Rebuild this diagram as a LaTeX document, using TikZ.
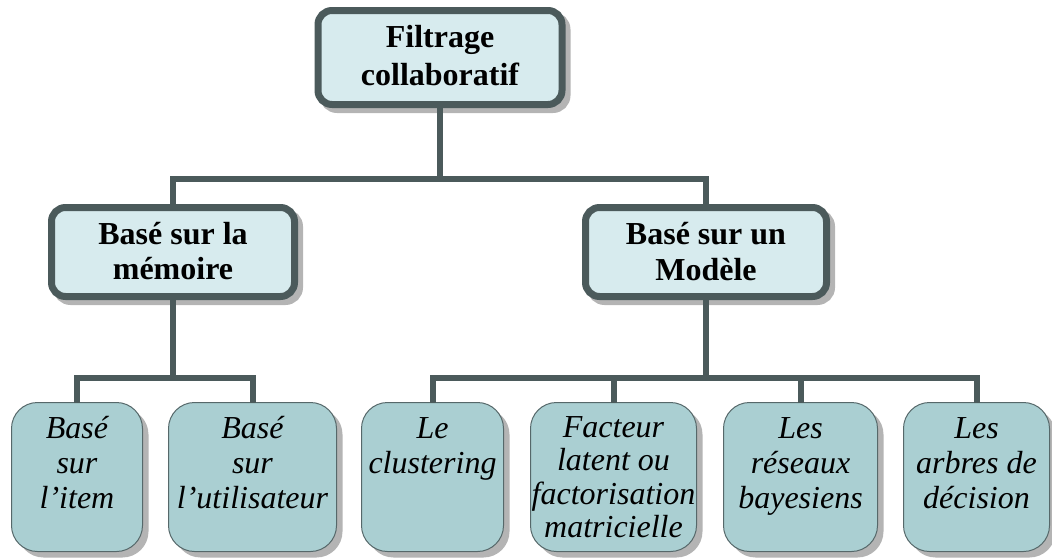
\documentclass[tikz,border=0pt]{standalone}
\usepackage{fontspec}
\setmainfont{Liberation Serif}
\usetikzlibrary{shadows}
\definecolor{edgec}{HTML}{4B5A5B}
\definecolor{lightfill}{HTML}{D7EBEE}
\definecolor{darkfill}{HTML}{AACFD2}
\definecolor{leafedge}{HTML}{56686A}
\definecolor{shadowc}{HTML}{B4B4B4}
\newcommand\boxtext[4]{\parbox[c][#2][t]{#1}{\centering\rule{0pt}{#3}#4}}
\tikzset{
  headbox/.style={draw=edgec, line width=7pt, fill=lightfill, rounded corners=14pt,
    inner sep=0pt, outer sep=0pt,
    drop shadow={shadow xshift=5pt, shadow yshift=-5pt, fill=shadowc, draw=shadowc, line width=7pt, opacity=1},
    font=\fontsize{32}{35.5}\selectfont\bfseries},
  leafbox/.style={draw=leafedge, line width=1pt, fill=darkfill, rounded corners=26pt,
    inner sep=0pt, outer sep=0pt,
    drop shadow={shadow xshift=6pt, shadow yshift=-6pt, fill=shadowc, opacity=1},
    font=\fontsize{32}{35}\selectfont\itshape},
  conn/.style={draw=edgec, line width=6pt},
}
\begin{document}
\begin{tikzpicture}[x=1pt,y=-1pt]
\useasboundingbox (0,0) rectangle (1052,557);
% top
\node[headbox, font=\fontsize{32}{38.5}\selectfont\bfseries] (root) at (440,57.5)
  {\boxtext{244pt}{94pt}{36.5pt}{Filtrage\\collaboratif}};
% middle
\node[headbox] (mem) at (173,252) {\boxtext{243pt}{89pt}{36.5pt}{Basé sur la\\mémoire}};
\node[headbox] (mod) at (706,252) {\boxtext{241pt}{89pt}{37pt}{Basé sur un\\Modèle}};
% leaves
\node[leafbox] (b1) at (77,477) {\boxtext{131pt}{149pt}{35.5pt}{Basé\\sur\\l’item}};
\node[leafbox] (b2) at (252.5,477) {\boxtext{168pt}{149pt}{35.5pt}{Basé\\sur\\l’utilisateur}};
\node[leafbox] (b3) at (432.5,477) {\boxtext{142pt}{149pt}{35.5pt}{Le\\clustering}};
\node[leafbox, font=\fontsize{32}{33.5}\selectfont\itshape] (b4) at (613.5,477)
  {\boxtext{166pt}{149pt}{34.5pt}{Facteur\\latent ou\\factorisation\\matricielle}};
\node[leafbox] (b5) at (800.5,477) {\boxtext{154pt}{149pt}{35.5pt}{Les\\réseaux\\bayesiens}};
\node[leafbox] (b6) at (976.5,477) {\boxtext{146pt}{149pt}{35.5pt}{Les\\arbres de\\décision}};
% connectors
\coordinate (h1) at (440,179);
\coordinate (h2) at (173,378);
\coordinate (h3) at (706,378);
\draw[conn] (root.south) -- (h1);
\draw[conn] (mem.north) |- (h1) -| (mod.north);
\draw[conn] (mem.south) -- (h2);
\draw[conn] (b1.north) |- (h2) -| (b2.north);
\draw[conn] (mod.south) -- (h3);
\draw[conn] (b3.north) |- (h3) -| (b6.north);
\draw[conn] (b4.north) -- (b4.north |- h3);
\draw[conn] (b5.north) -- (b5.north |- h3);
\end{tikzpicture}
\end{document}
